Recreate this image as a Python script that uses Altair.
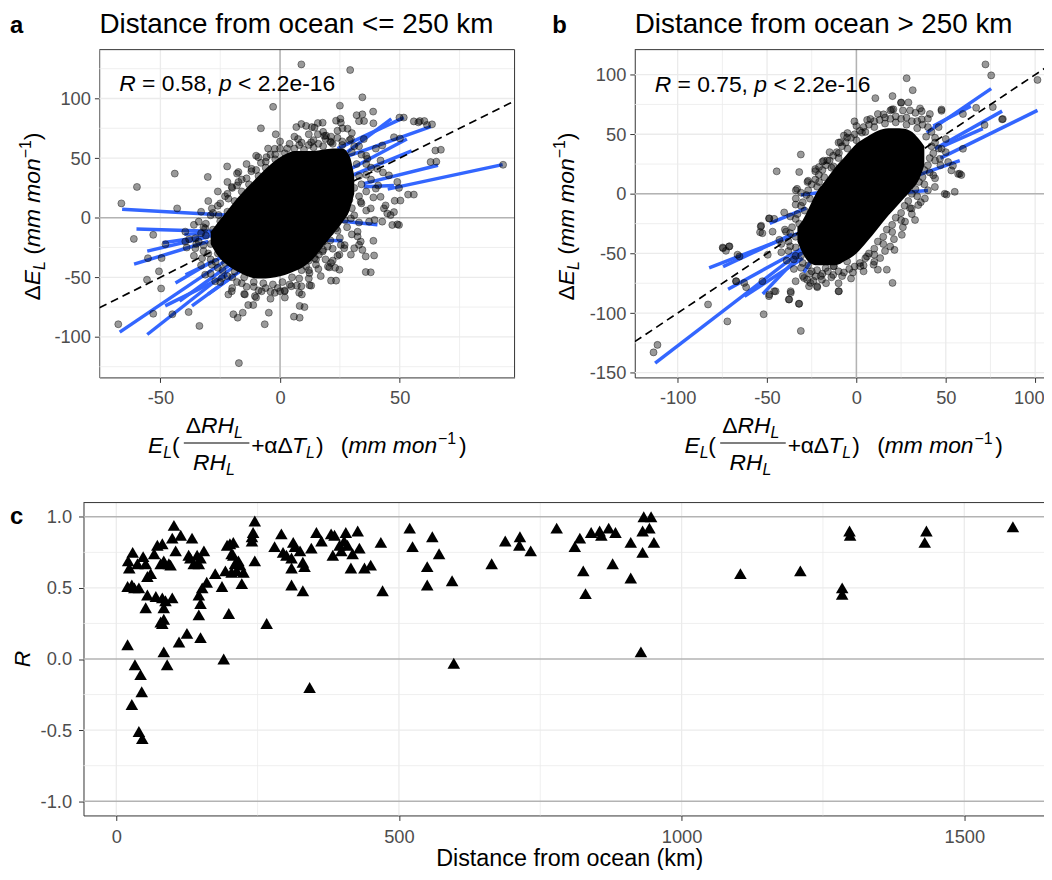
import altair as alt
import pandas as pd

FONT = "Liberation Sans"
BLUE = "#3366FF"
GRID = "#ebebeb"
ZERO = "#b3b3b3"
BORDER = "#333333"
LABEL = "#4d4d4d"

# ---------------- panel a : distance <= 250 km ----------------
a_points = [
    (8.9, 128.6), (29.3, 123.9), (-2.9, 93), (34.4, 101), (25, 94), (38.9, 89), (32, 86), (33, 81),
    (-8, 75), (-1.8, 70), (6.8, 76), (8.9, 78.6), (13.3, 76), (15.8, 79.4), (23.4, 81.4), (26.1, 75),
    (55.9, 80.8), (57.8, 80), (61.4, 77.8), (49.9, 84), (64.9, 56.4), (62.9, 46.7), (47.6, 67.5),
    (42.7, 60.6), (53.5, 19.4), (47.9, 14.2), (43.4, 7.8), (44.8, 3.6), (46.9, -6.1), (37.2, -3.3),
    (35.8, -32.5), (35.8, -45.6), (33.7, -20), (31, -25.6), (29.6, -31), (21.3, -38), (23, -42),
    (21.3, -52.8), (16.2, -31), (15, -39.4), (10.9, -40.8), (8.9, -57.5), (8.2, -74), (5.8, -83),
    (-6.4, -89.4), (-4.7, -79.7), (-11.2, -73.3), (-13.3, -73.3), (-15.6, -79.7), (-17.7, -83.9),
    (-19.5, -81), (-17.2, -122), (-21.6, -64.4), (-27.1, -53.3), (-31.3, -47.8), (-33.7, -90.8),
    (-38.2, -79.2), (-45, -81), (-53, -80.6), (-67.6, -89.4), (-49.7, -59.4), (-55.6, -52),
    (-50.6, -45), (-55.2, -34), (-47.9, -22.2), (-49.5, -33.9), (-53, -14.4), (-61.1, -17.8),
    (-66.3, 12), (-59.8, 25.8), (-44, 37), (-30.2, 34.2), (-22.1, 43), (-43, 7.8), (-35.4, -17.2),
    (-34, -3.3), (-17.4, 30), (-9.1, 50.8), (-5.7, 50.8), (-2.2, 57.8), (23.4, -8.9), (93.2, 44.4),
    (36.5, 49.4), (40.7, 41), (45.5, 35.5), (49, 30), (40, 24.4), (42, 17.5), (49.7, 25), (33.7, 13.3),
    (37.9, 7.8), (29.6, -0.6), (32.4, -11.7), (25.4, -22.8), (19.9, -24.2), (17.8, -28.3), (14.4, -33.9),
    (12.3, -46.4), (4.7, -57.5), (1.9, -61.7), (0, -61.7), (-2.2, -63), (-7.7, -61.7), (-10.5, -65.8),
    (-14.7, -64.4), (-20.2, -61.7), (-24.3, -50.6), (-28.5, -39.4), (-32.6, -34), (-35.4, -25.6),
    (-39.6, -20), (-39.6, -11.7), (-31.3, -8.9), (-25.7, 2.2), (-28.5, 7.8), (-21.6, 16), (-20.2, 25.8),
    (-17.4, 38.3), (-11.9, 41), (1.9, 49.4), (7.5, 66), (13, 63.3), (19.2, 68.9), (15.8, 70), (21.3, 63.3),
    (29.6, 66), (49.7, -6.1), (39, -19.4), (39.3, -31.7), (37.9, -45.8), (34.4, -27), (33, -22.8),
    (32.4, -15.8), (26.8, -25.6), (24.8, -31), (22, -36), (20.6, -41.7), (24.8, -43.6), (23.4, -52.8),
    (12.3, -56.7), (9.1, -64.4), (10.2, -75), (8.2, -83.9), (49, -5.6), (46.2, 2.2), (42.7, -3.3),
    (39.5, -1.9), (34.4, 86.7), (35.1, 81.1), (39, 79.2), (25.2, 83), (25.4, 79.7), (28.2, 74.7),
    (17.8, 79.7), (14.4, 75.6), (10.9, 77), (18.5, 68.6), (21.3, 68), (51.7, 84), (58.4, 81.1),
    (60.3, 81.1), (63.5, 78.3), (67.2, 57), (65.3, 47), (50.1, 66.4), (55.9, 19.4), (50.3, 14.4),
    (44.1, 10.3), (47.6, 4.7),
    # dense halo around the core
    (-28, -10), (-25, -3), (-22, 5), (-19, 14), (-16, 22), (-13, 28), (-9, 35), (-6, 42), (-2, 49),
    (2, 54), (6, 58), (10, 57), (14, 59), (18, 60), (22, 62), (26, 61), (30, 55), (32, 45), (33, 35),
    (31, 25), (29, 15), (27, 5), (24, -3), (21, -12), (18, -20), (15, -28), (12, -36), (9, -44),
    (5, -50), (1, -54), (-3, -56), (-7, -55), (-11, -54), (-15, -50), (-19, -45), (-23, -38),
    (-26, -30), (-29, -22), (-31, -15),
    (-34, -20), (-32, -8), (-29, 2), (-26, 10), (-23, 18), (-20, 25), (-16, 32), (-12, 39), (-8, 46),
    (-4, 53), (0, 58), (4, 62), (9, 63), (14, 65), (19, 66), (24, 67), (29, 65), (33, 60), (36, 52),
    (38, 42), (38, 32), (36, 22), (34, 12), (31, 2), (28, -8), (25, -17), (22, -26), (19, -35), (16, -43),
    (12, -51), (7, -57), (2, -61), (-4, -62), (-9, -61), (-14, -58), (-18, -54), (-22, -49), (-26, -42),
    (-29, -35), (-32, -28), (-35, -22),
    (-31, -5), (-28, 4), (-25, 12), (-22, 20), (-18, 27), (-14, 33), (-10, 40), (-6, 47), (-2, 53),
    (3, 58), (8, 61), (12, 61), (16, 62), (21, 64), (26, 64), (31, 60), (34, 53), (36, 45), (36, 36),
    (34, 28), (33, 18), (30, 8), (27, -2), (24, -11), (21, -19), (18, -27), (15, -35), (12, -44), (8, -51),
    (4, -56), (-1, -59), (-6, -59), (-11, -58), (-16, -55), (-20, -50), (-24, -44), (-27, -37), (-30, -30),
    (-32, -23), (-33, -13),
    (-38, -18), (-36, -6), (-33, 5), (-30, 14), (-26, 22), (-22, 30), (-18, 37), (-14, 45), (-10, 52),
    (-5, 58), (0, 64), (6, 68), (12, 70), (18, 72), (24, 73), (30, 71), (35, 66), (40, 58), (42, 48),
    (43, 38), (41, 27), (39, 17), (36, 6), (33, -4), (30, -14), (27, -23), (24, -32), (20, -41), (17, -49),
    (13, -57), (8, -63), (2, -67), (-4, -68), (-10, -67), (-15, -64), (-20, -59), (-25, -54), (-29, -47),
    (-33, -40), (-36, -32), (-39, -25),
]
a_core_x = [-29, -26, -22, -18, -14, -10, -6, -2, 2, 6, 10, 14, 18, 22, 26, 29, 31]
a_core_lo = [-22, -32, -40, -45, -49, -51, -51, -50, -48, -45, -41, -34, -24, -14, -4, 6, 20]
a_core_hi = [-12, -4, 6, 16, 25, 33, 41, 48, 53, 56, 56, 56, 57, 58, 58, 52, 35]
a_segments = [
    (-66, 7, -12, 1), (-60, -9.5, -18, -12), (-61, -39, -30, -20), (-55.5, -28, -30, -16),
    (-49, -21, -28, -15), (-40, -14, -22, -12), (-67, -96, -22, -35), (-55.5, -98, -20, -42),
    (-48, -74, -22, -48), (-42, -70, -20, -38), (-39.5, -48, -20, -29), (-30, -64, -16, -44),
    (-36.8, -74, -18.8, -47.8), (-43.7, -54.7, -28.5, -36.7),
    (45, 24, 93, 44.5), (35, 28.6, 66, 44), (26, 50, 63, 76.4), (24, 58, 51.7, 84), (28, 55, 46.5, 83),
    (27, 33, 55, 56), (29.6, 41, 53, 66), (21, -2, 40.7, -6), (13, -18.6, 26, -19.4), (35, 26, 47.6, 27),
]

# ---------------- panel b : distance > 250 km ----------------
b_points = [
    (72.2, 108.6), (75.4, 99.4), (101.3, 95.6), (28.1, 97), (31.5, 87), (10.6, 80.3), (20.2, 82),
    (29.1, 76.7), (25, 76.7), (20.7, 71), (35.6, 71.7), (41.1, 67), (47.6, 69.7), (67, 72.2), (76.3, 72.8),
    (81.9, 62.8), (71.7, 57.8), (59.6, 67), (7.8, 62.8), (-1.1, 60.8), (-7, 48.9), (-8.9, 43.3),
    (-9.8, 34.2), (-16.3, 28), (-20.9, 22.5), (-31.1, 33), (-44.6, 18.9), (-32, 18.3), (-27.4, 10),
    (-33.9, 3), (-33.9, -3.9), (-40.4, -15.6), (-48.7, -20.6), (-53.3, -26.7), (-53.9, -32.2),
    (-46.9, -31.7), (-39.4, -31.7), (-43.1, -38.6), (-74.6, -45.6), (-71.3, -44.2), (-65.4, -52.5),
    (-49.6, -51.1), (-67.2, -73.3), (-61.7, -78.3), (-48.7, -84.4), (-46, -81.7), (-36.7, -83),
    (-37.6, -88.6), (-32, -92.2), (-83, -92.8), (-51.9, -101), (-72.2, -107), (-31.1, -115),
    (-113.5, -133), (-111.3, -126.7), (-9.8, -81.7), (-29.3, -70.6), (-26.5, -77.5), (-21.9, -78.3),
    (-22.8, -69.2), (-17.2, -62.2), (-12.6, -60.8), (-5.2, -56.7), (2.2, -60.8), (5.9, -52.5),
    (9.6, -59.4), (12, -63.6), (17, -63.6), (13.3, -53.9), (20.2, -74.7), (18.9, -44.2), (21.3, -47),
    (25.4, -34.4), (27.2, -23.3), (32.8, -21.9), (30.9, -12.2), (34.6, -9.4), (38.3, -3.9), (43.9, 5.8),
    (50.4, -0.6), (55, 1.7), (53.1, 19.7), (57.8, 16.9), (51.3, 26.7), (46.7, 29.4), (43, 15.6),
    (47.6, 37.8), (59.6, 37.8), (-20.9, 10), (-18.3, 27.8), (-23, 20.8), (-33.2, 4.2), (-12.8, 23),
    (25, 76.4), (19.8, 70.8), (30, 70), (15.2, 66.7), (-5.2, 47.2), (3.1, 51.4), (36.5, 69.4),
    (47.6, 70.8), (36.5, 62.5), (81.5, 62.5), (56.9, 16.7), (58.7, 15.8), (49.4, 0), (54, 23.6),
    (-53.5, -27.5), (-52.6, -33), (-48.9, -20.6), (-46, -21), (-74.8, -45), (-71, -44), (-73, -47.8),
    (-66.5, -51), (-36.8, -81.7), (-32.2, -92.2), (-37.8, -88.6), (-48.9, -85.8), (-45.2, -81.7),
    (-34, -73.3), (-27.6, -72), (-25.7, -74.7), (-22, -77.5), (-19.3, -72), (-12.8, -60.8), (-10, -81.7),
    (-62.8, -74.7), (-67.4, -73.3), (-52.6, -73.3),
    # dense halo around the core
    (-34, -36), (-32, -25), (-29, -14), (-26, -4), (-22, 6), (-18, 14), (-14, 22), (-10, 30), (-5, 38),
    (0, 45), (5, 52), (10, 56), (16, 59), (22, 60), (28, 58), (34, 55), (39, 48), (42, 40), (41, 30),
    (38, 20), (35, 10), (31, 0), (27, -10), (22, -20), (17, -30), (12, -40), (7, -50), (2, -58),
    (-4, -63), (-10, -65), (-16, -65), (-22, -64), (-27, -60), (-31, -52), (-34, -45),
    (-38, -40), (-36, -28), (-33, -17), (-30, -7), (-27, 3), (-23, 12), (-19, 20), (-15, 28), (-11, 35),
    (-6, 43), (-1, 50), (4, 56), (10, 61), (16, 64), (22, 65), (28, 64), (34, 61), (40, 56), (44, 47),
    (46, 38), (44, 28), (41, 18), (38, 8), (34, -2), (30, -12), (25, -22), (20, -32), (15, -42), (10, -51),
    (4, -60), (-2, -66), (-8, -69), (-14, -70), (-20, -69), (-26, -67), (-31, -62), (-35, -55), (-38, -48),
    (-37, -33), (-34, -21), (-31, -10), (-28, -1), (-25, 8), (-21, 16), (-17, 24), (-13, 32), (-8, 40),
    (-3, 47), (2, 53), (7, 58), (13, 62), (19, 63), (25, 63), (31, 61), (37, 58), (42, 52), (44, 43),
    (43, 34), (40, 24), (37, 14), (33, 4), (29, -6), (25, -16), (20, -26), (15, -36), (10, -46), (5, -54),
    (-1, -61), (-7, -66), (-13, -68), (-19, -67), (-25, -65), (-30, -58), (-34, -52), (-37, -44),
    (-42, -42), (-40, -30), (-37, -19), (-34, -9), (-31, 1), (-27, 11), (-23, 19), (-19, 27), (-15, 35),
    (-10, 43), (-5, 51), (0, 57), (6, 62), (12, 67), (19, 70), (26, 70), (33, 68), (40, 63), (46, 56),
    (50, 46), (50, 35), (47, 24), (44, 13), (40, 3), (36, -7), (31, -17), (26, -28), (21, -38), (16, -48),
    (10, -57), (4, -65), (-3, -71), (-10, -75), (-17, -75), (-24, -73), (-30, -69), (-35, -63), (-39, -56),
    (-42, -49),
]
b_core_x = [-33, -30, -26, -22, -18, -12, -6, 0, 6, 12, 18, 24, 30, 35, 38]
b_core_lo = [-40, -50, -58, -60, -60, -60, -56, -50, -40, -29, -18, -8, 2, 12, 24]
b_core_hi = [-28, -22, -10, 2, 10, 22, 32, 42, 48, 53, 55, 55, 53, 46, 40]
b_segments = [
    (-112.6, -142, -30, -47), (-82.4, -62, -30, -31.7), (-74.6, -61, -36, -34), (-71.8, -80, -30, -45.6),
    (-62.6, -86, -30, -54), (-52.4, -84, -28, -45.6), (-48.5, -24.7, -28, -12), (-31, -1, -17, 1.7),
    (-29.4, -66, -20, -43),
    (39.3, 51.4, 75.4, 88.3), (47, 30, 101.3, 70), (44, 37.8, 81.5, 69.4), (48.5, 40, 70.7, 54.7),
    (33.7, 15.3, 57.8, 27.8), (28, 1.4, 40, 2.8), (43, 57, 64, 73.6),
]

# ---------------- panel c : R vs distance ----------------
c_dist = [
    20, 27.5, 33, 43, 45, 40, 46, 21, 23, 29, 20, 27.5, 32, 40, 37.5, 47.5, 52, 55, 52, 55, 61, 67, 72.6,
    81.4, 78.5, 70, 81.4, 87, 99, 84, 81.4, 78.5, 84, 84, 90, 84, 93, 96, 102, 99, 114, 105, 111, 125, 134,
    128, 131, 137, 143, 146, 155, 149, 146, 149, 146, 149, 152, 160, 175, 187, 190, 199, 193, 196, 201,
    204, 207, 210, 213, 216, 219, 222, 225, 207, 204, 240, 242, 245, 240, 245, 266, 280, 292, 295, 301,
    310, 313, 316, 310, 310, 325, 330, 333, 330, 342, 345, 354, 363, 380, 386, 383, 395, 398, 406, 403,
    409, 415, 418, 427, 430, 439, 450, 468, 471,
    519, 524, 559, 571, 550, 550, 594, 597, 664, 688, 714, 713, 733, 779, 811, 820, 826, 830, 840, 855,
    858, 871, 883, 878, 910, 910, 928, 931, 933, 946, 931, 943, 951, 1104,
    1210, 1284, 1284, 1297, 1298, 1433, 1430, 1586,
]
c_r = [
    0.10, -0.32, -0.04, -0.11, -0.23, -0.51, -0.56, 0.69, 0.64, 0.75, 0.51, 0.52, 0.50, 0.50, 0.67, 0.72,
    0.67, 0.58, 0.36, 0.45, 0.60, 0.74, 0.80, 0.81, 0.67, 0.44, 0.43, 0.41, 0.43, 0.36, 0.25, 0.26, 0.28,
    0.05, -0.04, 0.69, 0.67, 0.66, 0.94, 0.85, 0.87, 0.76, 0.12, 0.18, 0.85, 0.73, 0.71, 0.67, 0.73, 0.67,
    0.76, 0.71, 0.45, 0.39, 0.31, 0.15, 0.50, 0.54, 0.60, 0.51, 0.00, 0.32, 0.62, 0.80, 0.81, 0.74, 0.82,
    0.67, 0.62, 0.69, 0.66, 0.53, 0.61, 0.73, 0.61, 0.83, 0.89, 0.97, 0.86, 0.69, 0.25, 0.79, 0.88, 0.75,
    0.73, 0.71, 0.82, 0.79, 0.64, 0.52, 0.76, 0.48, 0.65, 0.68, -0.20, 0.78, 0.89, 0.83, 0.88, 0.87, 0.73,
    0.80, 0.76, 0.89, 0.83, 0.80, 0.64, 0.74, 0.90, 0.78, 0.64, 0.66, 0.82, 0.48,
    0.92, 0.79, 0.86, 0.74, 0.65, 0.52, 0.55, -0.03, 0.67, 0.83, 0.86, 0.80, 0.76, 0.92, 0.79, 0.85, 0.62,
    0.46, 0.89, 0.90, 0.87, 0.92, 0.89, 0.67, 0.82, 0.57, 0.05, 0.75, 1.00, 1.00, 0.90, 0.92, 0.82, 0.60,
    0.62, 0.50, 0.455, 0.90, 0.87, 0.90, 0.82, 0.93,
]

INT_LABEL = "'' + datum.value"
DEC_LABEL = "(datum.value < 0 ? '-' : '') + format(abs(datum.value), '.1f')"
TITLE_Y = -16.6


def text_layer(s, x, y, size, style="normal", weight="normal", align="left", angle=0):
    return alt.Chart(pd.DataFrame({"t": [s]})).mark_text(
        align=align, baseline="alphabetic", font=FONT, fontSize=size, fontStyle=style,
        fontWeight=weight, angle=angle, color="black",
    ).encode(text="t:N", x=alt.value(x), y=alt.value(y))


def frame_layers(x0, w, h, right):
    d = pd.DataFrame({"k": [0]})
    out = [alt.Chart(d).mark_rule(color=BORDER, strokeWidth=1).encode(
        x=alt.value(x0), x2=alt.value(w), y=alt.value(0))]
    if right:
        out.append(alt.Chart(d).mark_rule(color=BORDER, strokeWidth=1).encode(
            x=alt.value(w), y=alt.value(0), y2=alt.value(h)))
    return out


def grid_layers(X, Y, xmaj, xmin, ymaj, ymin, x0, x1):
    out = []
    for vals, width, ch in [(xmin, 0.8, "x"), (ymin, 0.8, "y"), (xmaj, 1.3, "x"), (ymaj, 1.3, "y")]:
        c = alt.Chart(pd.DataFrame({"v": vals})).mark_rule(color=GRID, strokeWidth=width)
        if ch == "x":
            out.append(c.encode(x=X("v")))
        else:
            out.append(c.encode(y=Y("v"), x=alt.value(x0), x2=alt.value(x1)))
    return out


def xtitle_layers(x0, B):
    pieces = [
        ("E", 0, 0, 23, "italic"), ("L", 15.3, 5, 16, "italic"), ("(", 24, 0, 23, "normal"),
        ("Δ", 38, -20, 23, "normal"), ("RH", 53.4, -20, 23, "italic"), ("L", 86.6, -15, 16, "italic"),
        ("RH", 45.3, 17, 23, "italic"), ("L", 78.5, 22, 16, "italic"),
        ("+", 104, 0, 23, "normal"), ("αΔ", 117, 0, 23, "normal"), ("T", 145, 0, 23, "italic"),
        ("L", 159, 5, 16, "italic"), (")", 169, 0, 23, "normal"), ("(", 194, 0, 23, "normal"),
        ("mm mon", 201.7, 0, 23, "italic"), ("−1", 292, -9, 16, "normal"), (")", 313, 0, 23, "normal"),
    ]
    out = [text_layer(s, x0 + dx, B + dy, fs, st) for s, dx, dy, fs, st in pieces]
    out.append(alt.Chart(pd.DataFrame({"k": [0]})).mark_rule(color="black", strokeWidth=1.2).encode(
        x=alt.value(x0 + 36), x2=alt.value(x0 + 102), y=alt.value(B - 10)))
    return out


def ytitle_layers(bx, y0):
    pieces = [
        ("Δ", 0, 0, 23, "normal"), ("E", 15.4, 0, 23, "italic"), ("L", 30.7, 5, 16, "italic"),
        ("(", 46, 0, 23, "normal"), ("mm mon", 53.7, 0, 23, "italic"), ("−1", 143.1, -9, 16, "normal"),
        (")", 161.3, 0, 23, "normal"),
    ]
    return [text_layer(s, bx + dx, y0 - d, fs, st, angle=270) for s, d, dx, fs, st in pieces]


def stat_layers(rval, y):
    return [
        text_layer("R", 20, y, 23, "italic"), text_layer("= " + rval + ",", 43, y, 23),
        text_layer("p", 120.4, y, 23, "italic"), text_layer("< 2.2e-16", 139.6, y, 23),
    ]


def scatter_panel(points, core_x, core_lo, core_hi, segments, xdom, ydom, xmaj, xmin, ymaj, ymin,
                  w, h, letter, letter_x, title, rval, stat_y, xt_x0, yt_x, right, last_flush):
    xs = alt.Scale(domain=xdom, nice=False, zero=False)
    ys = alt.Scale(domain=ydom, nice=False, zero=False)
    common = dict(grid=False, domainColor=BORDER, domainWidth=1, tickColor=BORDER, tickSize=5,
                  tickWidth=1, labelColor=LABEL, labelFont=FONT, labelFontSize=18.4,
                  labelExpr=INT_LABEL, title=None)
    xextra = {}
    if last_flush is not None:
        xextra = dict(
            labelAlign={"condition": {"test": f"datum.value == {last_flush}", "value": "right"}, "value": "center"},
            labelOffset={"condition": {"test": f"datum.value == {last_flush}", "value": 9}, "value": 0},
        )
    xax = alt.Axis(values=xmaj, labelPadding=6.5, **common, **xextra)
    yax = alt.Axis(values=ymaj, labelPadding=4, **common)

    def X(f):
        return alt.X(f, type="quantitative", scale=xs, axis=xax)

    def Y(f):
        return alt.Y(f, type="quantitative", scale=ys, axis=yax)

    pts = pd.DataFrame(points, columns=["x", "y"])
    core = pd.DataFrame({"x": core_x, "lo": core_lo, "hi": core_hi})
    segs = pd.DataFrame(segments, columns=["x1", "y1", "x2", "y2"])
    diag = pd.DataFrame({"x": xdom, "y": xdom})
    zero = pd.DataFrame({"v": [0]})

    layers = grid_layers(X, Y, xmaj, xmin, ymaj, ymin, 0, w)
    layers += [
        alt.Chart(zero).mark_rule(color=ZERO, strokeWidth=1.5).encode(x=X("v")),
        alt.Chart(zero).mark_rule(color=ZERO, strokeWidth=1.5).encode(y=Y("v")),
        alt.Chart(segs).mark_rule(color=BLUE, strokeWidth=3.5, strokeCap="butt", clip=True).encode(
            x=X("x1"), y=Y("y1"), x2=alt.X2("x2"), y2=alt.Y2("y2")),
        alt.Chart(core).mark_area(color="black", opacity=1, interpolate="monotone").encode(
            x=X("x"), y=Y("lo"), y2=alt.Y2("hi")),
        alt.Chart(pts).mark_point(shape="circle", filled=True, fill="black", stroke="black", size=50,
                                  fillOpacity=0.4, strokeOpacity=0.4, strokeWidth=1, clip=True).encode(
            x=X("x"), y=Y("y")),
        alt.Chart(diag).mark_line(color="black", strokeDash=[8, 5], strokeWidth=1.7, clip=True).encode(
            x=X("x"), y=Y("y")),
    ]
    layers += frame_layers(0, w, h, right)
    layers += stat_layers(rval, stat_y)
    layers.append(text_layer(letter, letter_x, TITLE_Y, 24, weight="bold"))
    layers.append(text_layer(title, 0, TITLE_Y, 28))
    layers += xtitle_layers(xt_x0, 406)
    layers += ytitle_layers(yt_x, 252.5)
    return alt.layer(*layers).properties(width=w, height=h)


pa = scatter_panel(a_points, a_core_x, a_core_lo, a_core_hi, a_segments,
                   [-75.5, 98], [-134, 141], [-50, 0, 50], [-75, -25, 25, 75],
                   [-100, -50, 0, 50, 100], [-125, -75, -25, 25, 75, 125],
                   418, 330, "a", -90, "Distance from ocean <= 250 km", "0.58", 41.3, 49, -60, True, None)
pb = scatter_panel(b_points, b_core_x, b_core_lo, b_core_hi, b_segments,
                   [-124, 105.5], [-154, 121], [-100, -50, 0, 50, 100], [-75, -25, 25, 75],
                   [-150, -100, -50, 0, 50, 100], [-125, -75, -25, 25, 75],
                   413, 330, "b", -83, "Distance from ocean > 250 km", "0.75", 42.3, 50, -61, False, 100)

# panel c : its plot area starts 16 px left of the column origin shared with panel a
SHIFT = 16
cw, ch = 951, 315
cxs = alt.Scale(domain=[-58, 1641], nice=False, zero=False, range=[-SHIFT, cw])
cys = alt.Scale(domain=[-1.1, 1.1], nice=False, zero=False)
c_common = dict(grid=False, domainColor=BORDER, domainWidth=1, tickColor=BORDER, tickSize=5, tickWidth=1,
                labelColor=LABEL, labelFont=FONT, labelFontSize=18.4, title=None, labelPadding=7)
cxax = alt.Axis(values=[0, 500, 1000, 1500], labelExpr=INT_LABEL, **c_common)
cyax = alt.Axis(values=[-1, -0.5, 0, 0.5, 1], labelExpr=DEC_LABEL, offset=SHIFT, **c_common)


def CX(f):
    return alt.X(f, type="quantitative", scale=cxs, axis=cxax)


def CY(f):
    return alt.Y(f, type="quantitative", scale=cys, axis=cyax)


c_layers = grid_layers(CX, CY, [0, 500, 1000, 1500], [250, 750, 1250], [-0.5, 0.5],
                       [-0.75, -0.25, 0.25, 0.75], -SHIFT, cw)
c_layers += [
    alt.Chart(pd.DataFrame({"v": [-1, 0, 1]})).mark_rule(color=ZERO, strokeWidth=1.6).encode(
        y=CY("v"), x=alt.value(-SHIFT), x2=alt.value(cw)),
    alt.Chart(pd.DataFrame({"d": c_dist, "r": c_r})).mark_point(
        shape="triangle-up", filled=True, color="black", size=160, opacity=1).encode(x=CX("d"), y=CY("r")),
]
c_layers += frame_layers(-SHIFT, cw, ch, False)
c_layers += [
    text_layer("c", -90, 22, 24, weight="bold"),
    text_layer("R", -70, 157.5, 23, "italic", align="center", angle=270),
    text_layer("Distance from ocean (km)", 473.5, 365.5, 23.5, align="center"),
]
pc = alt.layer(*c_layers).properties(width=cw, height=ch)

top = alt.hconcat(pa, pb, spacing=36)
chart = alt.vconcat(top, pc, spacing=24).properties(
    padding={"left": 2, "top": 0, "right": -16, "bottom": -3}
).configure_view(stroke=None)

chart.save("out.html", embed_options={"renderer": "svg", "actions": False})
